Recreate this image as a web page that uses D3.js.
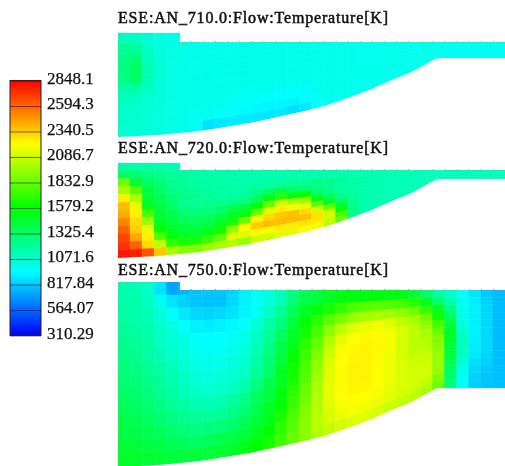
<!DOCTYPE html>
<html>
<head>
<meta charset="utf-8">
<script src="https://cdnjs.cloudflare.com/ajax/libs/d3/7.8.5/d3.min.js"></script>
<style>
  html, body { margin: 0; padding: 0; background: #fff; }
  svg { display: block; }
</style>
</head>
<body>
<svg width="505" height="466"></svg>
<script>
// colour bar
const legendValues = [2848.1, 2594.3, 2340.5, 2086.7, 1832.9, 1579.2, 1325.4, 1071.6, 817.84, 564.07, 310.29];
const colorValues = [310.29, 944.8, 1579.2, 2213.6, 2848.1];
const colorNames = ["#0000ff", "#00ffff", "#00ff00", "#ffff00", "#ff0000"];

const titles = ["ESE:AN_710.0:Flow:Temperature[K]", "ESE:AN_720.0:Flow:Temperature[K]", "ESE:AN_750.0:Flow:Temperature[K]"];

// piston bowl: depth below the rim along the radius
const bowlRadius = [0, 42, 82, 132, 187, 210, 230, 254, 274, 294, 319, 387];
const bowlDepth = [79, 77, 73, 65, 53, 47, 40, 31, 22, 14, 0, 0];

// temperature cells, rows top to bottom, 32 columns
const temp710 = [
  [1110,1090,1040,1010,1000,995,995,995,995,995,995,995,995,995,995,995,990,990,990,990,985,985,985,985,985,985,985,980,980,980,980,980],
  [1200,1190,1080,1030,1010,1000,995,995,995,995,995,995,995,995,995,995,990,990,990,990,985,985,985,985,985,985,985,980,980,980,980,980],
  [1240,1280,1110,1040,1010,1000,995,995,995,995,995,995,995,995,995,995,990,990,990,990,985,985,985,985,985,985,985,980,980,980,980,980],
  [1260,1340,1140,1050,1015,1000,995,995,995,995,995,995,995,995,995,995,990,990,990,990,985,985,985,985,985,985,985,980,980,980,980,980],
  [1250,1320,1130,1050,1015,1000,995,995,995,995,995,995,995,995,995,995,990,990,990,990,985,985,985,985,985,985,985,980,980,980,980,980],
  [1150,1160,1090,1040,1010,1000,995,995,995,995,995,995,995,995,995,995,990,990,990,990,985,985,985,985,985,985,985,980,980,980,980,980],
  [1100,1090,1060,1030,1010,1000,995,995,995,990,985,985,980,980,980,980,985,985,985,985,985,985,985,985,985,985,985,980,980,980,980,980],
  [1080,1070,1050,1030,1010,1000,995,990,985,975,965,960,955,950,945,955,975,985,985,985,985,985,985,985,985,985,985,980,980,980,980,980],
  [1070,1060,1045,1030,1010,1000,985,975,960,945,935,930,925,925,920,940,970,985,985,985,985,985,985,985,985,985,985,980,980,980,980,980],
  [1060,1055,1045,1030,1010,995,965,870,890,900,895,890,885,895,870,890,950,985,985,985,985,985,985,985,985,985,985,980,980,980,980,980]
];

const temp720 = [
  [1180,1170,1170,1160,1150,1150,1150,1150,1140,1140,1140,1140,1140,1140,1140,1140,1140,1140,1140,1140,1140,1130,1130,1130,1130,1120,1120,1120,1120,1120,1120,1120],
  [1330,1300,1250,1220,1190,1170,1160,1150,1150,1150,1140,1140,1140,1140,1140,1140,1140,1140,1140,1140,1140,1130,1130,1130,1130,1120,1120,1120,1120,1120,1120,1120],
  [1850,1450,1330,1280,1220,1200,1180,1170,1160,1150,1150,1150,1150,1150,1150,1150,1150,1150,1150,1140,1140,1130,1130,1130,1130,1120,1120,1120,1120,1120,1120,1120],
  [2000,1800,1420,1330,1240,1220,1190,1170,1160,1160,1160,1170,1180,1190,1210,1230,1250,1230,1190,1160,1150,1140,1130,1130,1130,1120,1120,1120,1120,1120,1120,1120],
  [2250,2000,1460,1370,1280,1250,1220,1200,1180,1180,1190,1260,1330,1400,1330,1300,1250,1220,1180,1160,1150,1140,1130,1130,1130,1120,1120,1120,1120,1120,1120,1120],
  [2380,2150,1500,1410,1320,1230,1210,1220,1220,1220,1250,1350,1550,1680,1550,1580,1330,1250,1200,1170,1150,1140,1130,1130,1130,1120,1120,1120,1120,1120,1120,1120],
  [2420,2250,1750,1440,1370,1290,1270,1270,1310,1380,1420,1560,1830,2080,2000,1950,1550,1350,1220,1180,1150,1140,1130,1130,1130,1120,1120,1120,1120,1120,1120,1120],
  [2520,2300,1950,1480,1420,1350,1330,1350,1400,1500,1560,1830,2130,2250,2220,2150,1800,1500,1300,1200,1150,1140,1130,1130,1130,1120,1120,1120,1120,1120,1120,1120],
  [2600,2330,2150,1560,1470,1420,1400,1420,1490,1640,1860,2230,2300,2350,2370,2300,2100,1830,1450,1220,1150,1140,1130,1130,1130,1120,1120,1120,1120,1120,1120,1120],
  [2680,2430,2250,1760,1540,1480,1470,1520,1620,1930,2230,2340,2380,2380,2380,2370,2280,2100,1550,1230,1150,1140,1130,1130,1130,1120,1120,1120,1120,1120,1120,1120],
  [2720,2600,2300,2050,1700,1640,1640,1720,1830,2130,2130,2230,2220,2260,2260,2280,2270,2100,1750,1230,1150,1140,1130,1130,1130,1120,1120,1120,1120,1120,1120,1120],
  [2790,2780,2640,2350,2000,1900,1900,1960,2000,2030,1950,2080,2080,2130,2150,2200,2180,2050,1850,1240,1150,1140,1130,1130,1130,1120,1120,1120,1120,1120,1120,1120]
];

const temp750 = [
  [1150,1130,1080,880,720,760,800,800,800,840,900,960,1020,1100,1250,1340,1400,1480,1500,1520,1500,1480,1450,1430,1350,1200,1120,1030,950,880,800,780],
  [1160,1150,1100,1000,880,830,800,790,790,850,910,970,1030,1120,1280,1400,1440,1500,1540,1560,1560,1560,1550,1530,1450,1320,1180,1060,950,880,810,780],
  [1180,1160,1120,1050,960,890,850,840,850,880,920,980,1080,1200,1360,1500,1560,1640,1700,1760,1800,1800,1780,1750,1680,1500,1300,1150,980,900,830,780],
  [1200,1180,1140,1080,1020,950,910,900,910,930,960,1050,1160,1280,1430,1570,1680,1800,1880,1960,1980,2000,1980,1930,1850,1700,1480,1240,990,910,840,780],
  [1220,1200,1160,1100,1050,1000,960,950,950,970,1000,1090,1200,1330,1480,1620,1750,1930,2060,2130,2160,2170,2130,2050,1980,1860,1600,1330,1000,910,850,780],
  [1250,1220,1180,1130,1080,1030,990,970,970,990,1040,1130,1250,1400,1530,1680,1820,2020,2150,2210,2225,2220,2180,2110,2050,1950,1750,1420,1030,910,850,780],
  [1280,1250,1210,1160,1110,1060,1010,1000,1000,1020,1070,1160,1290,1430,1570,1720,1880,2090,2200,2225,2235,2225,2190,2110,2050,2000,1830,1480,1080,910,850,780],
  [1300,1280,1240,1190,1140,1090,1040,1020,1030,1060,1100,1200,1320,1470,1600,1760,1930,2120,2210,2235,2240,2225,2180,2110,2050,2030,1900,1480,1100,910,850,780],
  [1330,1310,1270,1220,1170,1120,1080,1060,1080,1100,1160,1260,1380,1500,1640,1790,1970,2140,2220,2240,2240,2220,2170,2110,2060,2050,1930,1440,1100,900,850,780],
  [1360,1340,1300,1260,1210,1170,1130,1120,1130,1170,1230,1330,1430,1540,1680,1830,2000,2150,2220,2240,2240,2215,2170,2120,2080,2080,1950,1420,1100,900,840,780],
  [1390,1370,1340,1300,1260,1220,1190,1180,1200,1240,1300,1380,1480,1590,1720,1860,2020,2150,2215,2235,2235,2210,2170,2120,2090,2100,1950,1380,1060,870,830,780],
  [1420,1400,1380,1350,1310,1280,1260,1260,1280,1310,1370,1440,1530,1640,1760,1900,2030,2130,2200,2215,2215,2200,2160,2120,2100,2100,1950,1330,1000,850,810,790],
  [1450,1440,1420,1400,1370,1350,1340,1350,1380,1400,1440,1510,1590,1690,1800,1920,2040,2110,2170,2190,2180,2170,2140,2110,2090,2060,1900,1300,980,830,800,790],
  [1470,1470,1460,1450,1440,1430,1420,1430,1450,1480,1520,1570,1640,1730,1830,1920,2020,2060,2110,2130,2130,2110,2080,2060,2050,2000,1850,1280,960,830,800,790]
];

const svg = d3.select("svg");
const fontName = "'Liberation Serif', serif";

const color = d3.scaleLinear().domain(colorValues).range(colorNames);

const defs = svg.append("defs");
const soft = defs.append("filter").attr("id", "soft")
  .attr("x", "-5%").attr("y", "-5%").attr("width", "110%").attr("height", "110%");
soft.append("feGaussianBlur").attr("stdDeviation", 0.5);
const softText = defs.append("filter").attr("id", "softText")
  .attr("x", "-5%").attr("y", "-20%").attr("width", "110%").attr("height", "140%");
softText.append("feGaussianBlur").attr("stdDeviation", 0.3);

// legend
const grad = defs.append("linearGradient").attr("id", "bar")
  .attr("x1", 0).attr("x2", 0).attr("y1", 1).attr("y2", 0);
colorValues.forEach((v, i) => {
  grad.append("stop")
    .attr("offset", (v - colorValues[0]) / (colorValues[4] - colorValues[0]))
    .attr("stop-color", colorNames[i]);
});

const legendY = d3.scaleLinear().domain([310.29, 2848.1]).range([335.5, 80.5]);
const legend = svg.append("g").attr("transform", "translate(41,0)");
legend.append("rect")
  .attr("x", -31).attr("width", 31)
  .attr("y", legendY(2848.1))
  .attr("height", legendY(310.29) - legendY(2848.1))
  .attr("fill", "url(#bar)");

const legendAxis = d3.axisRight(legendY)
  .tickValues(legendValues)
  .tickFormat(d => String(d))
  .tickSizeInner(-31)
  .tickSizeOuter(0)
  .tickPadding(6);

const legendG = legend.append("g").call(legendAxis);
legendG.select(".domain").remove();
legendG.selectAll("line").attr("stroke", "#000").attr("stroke-opacity", 0.55);
legendG.selectAll("text")
  .attr("y", -2.5)
  .attr("font-family", fontName)
  .attr("font-size", 17)
  .attr("fill", "#111")
  .attr("stroke", "#111")
  .attr("stroke-width", 0.25)
  .attr("filter", "url(#softText)");
legend.append("rect")
  .attr("x", -31).attr("width", 31)
  .attr("y", legendY(2848.1))
  .attr("height", legendY(310.29) - legendY(2848.1))
  .attr("fill", "none")
  .attr("stroke", "#222");

// the three contour panels
const x = d3.scaleLinear().domain([0, 387]).range([118, 505]);
const bowl = d3.scaleLinear().domain(bowlRadius).range(bowlDepth);
const stepRadius = 62;

const panels = [
  { title: titles[0], cells: temp710, titleY: 23, stepTop: 33, top: 42, rim: 58 },
  { title: titles[1], cells: temp720, titleY: 153, stepTop: 163, top: 170, rim: 179 },
  { title: titles[2], cells: temp750, titleY: 275, stepTop: 282, top: 290, rim: 388 }
];

const line = d3.line();

panels.forEach((p, i) => {
  const g = svg.append("g");
  const floor = r => p.rim + bowl(r);

  const outline = [[x(0), p.stepTop], [x(stepRadius), p.stepTop], [x(stepRadius), p.top], [x(387), p.top]]
    .concat(bowlRadius.slice().reverse().map(r => [x(r), floor(r)]));

  g.append("clipPath").attr("id", "clip" + i)
    .append("path").attr("d", line(outline) + "Z");

  const rows = p.cells.length;
  const cols = p.cells[0].length;
  const colX = d3.scaleLinear().domain([0, cols]).range([0, 387]);
  const pos = (c, r) => {
    const radius = colX(c);
    return [x(radius), p.stepTop + (floor(radius) - p.stepTop) * r / rows];
  };

  const cells = [];
  p.cells.forEach((row, r) => row.forEach((t, c) => cells.push({ r, c, t })));

  const body = g.append("g").attr("filter", "url(#soft)");

  body.append("g").attr("clip-path", "url(#clip" + i + ")")
    .selectAll("path")
    .data(cells)
    .join("path")
    .attr("d", d => line([pos(d.c, d.r), pos(d.c + 1, d.r), pos(d.c + 1, d.r + 1), pos(d.c, d.r + 1)]) + "Z")
    .attr("fill", d => color(d.t))
    .attr("stroke", d => color(d.t))
    .attr("stroke-width", 0.6);

  // little mesh nubs along the cylinder head
  body.append("g")
    .selectAll("rect")
    .data(d3.range(6, cols))
    .join("rect")
    .attr("x", c => x(colX(c)))
    .attr("y", p.top - 1)
    .attr("width", 1.2)
    .attr("height", 1.2)
    .attr("fill", c => color(p.cells[1][c]));

  svg.append("text")
    .attr("x", 118)
    .attr("y", p.titleY)
    .attr("font-family", fontName)
    .attr("font-size", 16)
    .attr("textLength", 270)
    .attr("lengthAdjust", "spacing")
    .attr("fill", "#111")
    .attr("stroke", "#111")
    .attr("stroke-width", 0.5)
    .attr("filter", "url(#softText)")
    .text(p.title);
});
</script>
</body>
</html>
